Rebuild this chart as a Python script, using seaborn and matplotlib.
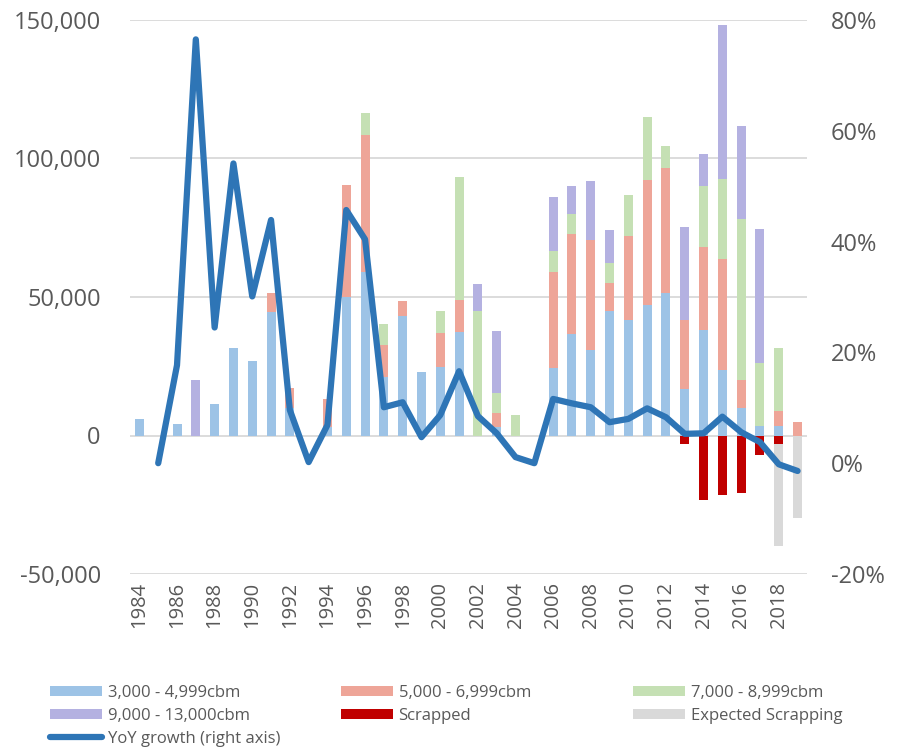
import numpy as np
import pandas as pd
import matplotlib
matplotlib.use("Agg")
import matplotlib.pyplot as plt
from matplotlib.patches import Patch
from matplotlib.lines import Line2D
from matplotlib.ticker import FuncFormatter, MultipleLocator
import seaborn as sns

# ---- data -------------------------------------------------------------
years = list(range(1984, 2020))

size_3k = [6000, 0, 4000, 0, 11500, 31500, 27000, 44500, 10000, 0,
           3000, 50000, 59000, 21000, 43300, 22800, 24600, 37200, 0, 3000,
           0, 0, 24300, 36600, 30700, 45000, 41800, 47200, 51400, 16700,
           38000, 23800, 10000, 3600, 3600, 0]
size_5k = [0, 0, 0, 0, 0, 0, 0, 6800, 7000, 0,
           10300, 40500, 49500, 11500, 5400, 0, 12500, 11800, 0, 5000,
           0, 0, 34900, 36200, 39800, 10100, 30200, 45100, 45100, 24900,
           30100, 39900, 9900, 0, 5100, 4900]
size_7k = [0, 0, 0, 0, 0, 0, 0, 0, 0, 0,
           0, 0, 7800, 7900, 0, 0, 7700, 44400, 44800, 7200,
           7500, 0, 7500, 7000, 0, 7300, 14700, 22700, 8100, 0,
           21900, 28900, 58200, 22500, 22900, 0]
size_9k = [0, 0, 0, 20000, 0, 0, 0, 0, 0, 0,
           0, 0, 0, 0, 0, 0, 0, 0, 9900, 22700,
           0, 0, 19500, 10100, 21300, 11800, 0, 0, 0, 33600,
           11500, 55600, 33700, 48600, 0, 0]
scrapped = [0] * 29 + [-3000, -23400, -21400, -20600, -7100, -3000, 0]
expected_scrapping = [0] * 34 + [-37000, -29700]

growth_years = list(range(1985, 2020))
yoy_growth = [0.0, 17.7, 76.5, 24.5, 54.1, 30.1, 43.9, 9.6, 0.2, 6.9,
              45.7, 40.4, 10.1, 11.0, 4.7, 8.7, 16.6, 8.5, 5.4, 1.1,
              0.0, 11.6, 10.8, 10.1, 7.4, 8.0, 9.9, 8.3, 5.3, 5.4,
              8.4, 5.6, 3.8, -0.2, -1.4]

labels = ["3,000 - 4,999cbm", "5,000 - 6,999cbm", "7,000 - 8,999cbm",
          "9,000 - 13,000cbm", "Scrapped", "Expected Scrapping",
          "YoY growth (right axis)"]
colors = ["#9DC3E6", "#EEA598", "#C5E0B4", "#B4B1E1", "#C00000", "#D9D9D9"]
line_color = "#2E75B6"
text_color = "#595959"

# ---- style ------------------------------------------------------------
sns.set_style("white")
plt.rcParams["font.family"] = ["Open Sans", "DejaVu Sans"]

fig = plt.figure(figsize=(8.97, 7.47), dpi=100)
ax = fig.add_axes([130 / 897, 1 - 574 / 747, 677 / 897, 554 / 747])

df = pd.DataFrame({"year": years, "s3": size_3k, "s5": size_5k,
                   "s7": size_7k, "s9": size_9k,
                   "scr": scrapped, "exp": expected_scrapping})

# positive stack drawn as cumulative totals, top layer first
cum = np.cumsum(df[["s3", "s5", "s7", "s9"]].to_numpy(), axis=1)
bar_kw = dict(native_scale=True, width=0.48, saturation=1,
              errorbar=None, linewidth=0, ax=ax)
for i in range(3, -1, -1):
    sns.barplot(x=df["year"], y=cum[:, i], color=colors[i], **bar_kw)

# negative stack: expected scrapping below the scrapped tonnage
sns.barplot(x=df["year"], y=df["scr"] + df["exp"], color=colors[5], **bar_kw)
sns.barplot(x=df["year"], y=df["scr"], color=colors[4], **bar_kw)

ax.set_xlim(1983.5, 2019.5)
ax.set_ylim(-50000, 150000)
ax.yaxis.set_major_locator(MultipleLocator(50000))
ax.yaxis.set_major_formatter(FuncFormatter(lambda v, p: f"{v:,.0f}"))
ax.set_xticks(years[::2])
ax.set_xticklabels([str(y) for y in years[::2]], rotation=90)
ax.grid(axis="y", color="#D9D9D9", linewidth=1.3)
ax.set_axisbelow(True)
ax.set_xlabel("")
ax.set_ylabel("")
for s in ax.spines.values():
    s.set_visible(False)
ax.tick_params(axis="y", length=0, pad=21, labelsize=17, labelcolor=text_color)
ax.tick_params(axis="x", length=0, pad=6, labelsize=14.5, labelcolor=text_color)

# growth line on the secondary axis
ax2 = ax.twinx()
sns.lineplot(x=growth_years, y=yoy_growth, color=line_color, linewidth=4.5,
             ax=ax2, solid_capstyle="round", solid_joinstyle="round")
ax2.set_ylim(-20, 80)
ax2.yaxis.set_major_locator(MultipleLocator(20))
ax2.yaxis.set_major_formatter(FuncFormatter(lambda v, p: f"{v:.0f}%"))
ax2.grid(False)
for s in ax2.spines.values():
    s.set_visible(False)
ax2.tick_params(axis="y", length=0, pad=17, labelsize=17, labelcolor=text_color)
ax2.set_xlim(1983.5, 2019.5)

# ---- legend: three columns laid out in rows ---------------------------
handles = [Patch(facecolor=c, edgecolor="none") for c in colors]
handles.append(Line2D([0], [0], color=line_color, linewidth=4.5,
                      solid_capstyle="round"))
columns = [([0, 3, 6], 50), ([1, 4], 341), ([2, 5], 633)]
for idx, xpx in columns:
    fig.legend([handles[i] for i in idx], [labels[i] for i in idx],
               loc="upper left", bbox_to_anchor=(xpx / 897, 1 - 685 / 747),
               frameon=False, fontsize=12, labelcolor=text_color,
               handlelength=3.1, handleheight=0.6, handletextpad=0.35,
               labelspacing=0.42, borderpad=0, borderaxespad=0)

fig.savefig("out.png", dpi=100)
